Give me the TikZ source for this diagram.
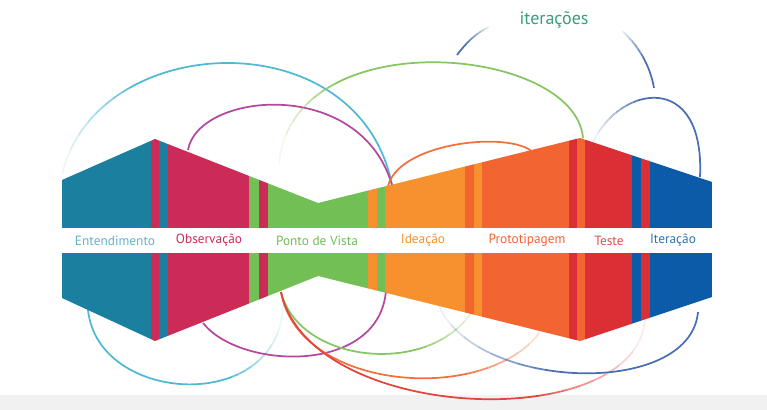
\documentclass[tikz,border=0pt]{standalone}
\usepackage{fontspec}
\setmainfont{PT Sans}

\definecolor{cTeal}{RGB}{27,128,160}
\definecolor{cCrimson}{RGB}{203,43,86}
\definecolor{cGreen}{RGB}{113,191,85}
\definecolor{cOrange}{RGB}{247,145,47}
\definecolor{cDkOrange}{RGB}{242,100,48}
\definecolor{cRed}{RGB}{218,48,53}
\definecolor{cBlue}{RGB}{11,91,168}
\definecolor{cArcCyan}{RGB}{79,185,211}
\definecolor{cArcMag}{RGB}{181,71,156}
\definecolor{cArcGreen}{RGB}{134,197,98}
\definecolor{cArcOrange}{RGB}{243,112,62}
\definecolor{cArcRed}{RGB}{226,67,58}
\definecolor{cArcBlue}{RGB}{74,111,176}
\definecolor{cTxtEnt}{RGB}{98,181,203}
\definecolor{cTxtIter}{RGB}{58,158,128}
\definecolor{cFloor}{RGB}{241,241,241}

\tikzset{every picture/.style={line width=0.75pt}}
\tikzset{
  arcline/.style={line width=1.3pt},
  steplabel/.style={font=\fontsize{10}{12}\selectfont, inner sep=0pt},
}

% loop that fades in between x=#3 and x=#4 (style #1, path #2)
\newcommand{\fadeinarc}[4]{%
  \foreach \s in {1,...,8}{%
    \begin{scope}
      \clip ({#3+(\s-1)*(#4-#3)/8},0) rectangle ({#3+\s*(#4-#3)/8},410);
      \draw[#1, draw opacity=\s/9] #2;
    \end{scope}}
  \begin{scope}
    \clip (#4,0) rectangle (767,410);
    \draw[#1] #2;
  \end{scope}}
% loop that fades out between x=#3 and x=#4
\newcommand{\fadeoutarc}[4]{%
  \begin{scope}
    \clip (0,0) rectangle (#3,410);
    \draw[#1] #2;
  \end{scope}
  \foreach \s in {1,...,8}{%
    \begin{scope}
      \clip ({#3+(\s-1)*(#4-#3)/8},0) rectangle ({#3+\s*(#4-#3)/8},410);
      \draw[#1, draw opacity=(9-\s)/9] #2;
    \end{scope}}}

\begin{document}
\begin{tikzpicture}[x=0.75pt,y=0.75pt,yscale=-1,xscale=1]
        \useasboundingbox (0,0) rectangle (767,410);
        \fill[cFloor] (0,395) rectangle (767,410);
        % loops above
        \fadeinarc{arcline, cArcCyan}{(62,175) .. controls (95,30) and (359,18) .. (392,185)}{62}{130}
        \draw[arcline, cArcMag] (188,150) .. controls (198,92) and (360,76) .. (392,185);
        \fadeinarc{arcline, cArcGreen}{(279,165) .. controls (290,20) and (575,45) .. (583,138)}{279}{335}
        \draw[arcline, cArcOrange] (388,186) .. controls (400,140) and (520,130) .. (535,155);
        \fadeinarc{arcline, cArcBlue}{(593,142) .. controls (620,85) and (705,70) .. (700,177)}{593}{638}
        \fadeoutarc{arcline, cArcBlue}{(457,55) .. controls (466,43) and (476,33) .. (489,27)}{466}{490}
        \fadeinarc{arcline, cArcBlue}{(622,31) .. controls (638,45) and (650,65) .. (654,88)}{621}{643}
        % loops below
        \fadeoutarc{arcline, cArcCyan}{(88,310) .. controls (98,405) and (280,415) .. (283,305)}{232}{284}
        \draw[arcline, cArcMag] (203,323) .. controls (240,370) and (380,375) .. (386,290);
        \fadeoutarc{arcline, cArcGreen}{(281,292) .. controls (300,368) and (445,378) .. (478,300)}{420}{479}
        \fadeoutarc{arcline, cArcOrange}{(281,292) .. controls (300,398) and (510,406) .. (548,318)}{468}{549}
        \fadeoutarc{arcline, cArcRed}{(281,292) .. controls (310,425) and (640,435) .. (645,318)}{540}{646}
        \fadeinarc{arcline, cArcBlue}{(438,303) .. controls (470,390) and (690,400) .. (698,312)}{437}{545}
        % the band
        \begin{scope}
        \clip (62,180) -- (155,139) -- (318,203) -- (580,138) -- (712,182) -- (712,297) -- (580,341) -- (318,276) -- (155,341) -- (62,298) -- cycle ;
        \fill[cTeal] (62,130) rectangle (151,350);
        \fill[cCrimson] (151,130) rectangle (159,350);
        \fill[cTeal] (159,130) rectangle (168,350);
        \fill[cCrimson] (168,130) rectangle (249,350);
        \fill[cGreen] (249,130) rectangle (259,350);
        \fill[cCrimson] (259,130) rectangle (268,350);
        \fill[cGreen] (268,130) rectangle (368,350);
        \fill[cOrange] (368,130) rectangle (377,350);
        \fill[cGreen] (377,130) rectangle (385,350);
        \fill[cOrange] (385,130) rectangle (465,350);
        \fill[cDkOrange] (465,130) rectangle (474,350);
        \fill[cOrange] (474,130) rectangle (482,350);
        \fill[cDkOrange] (482,130) rectangle (569,350);
        \fill[cRed] (569,130) rectangle (577,350);
        \fill[cDkOrange] (577,130) rectangle (585,350);
        \fill[cRed] (585,130) rectangle (632,350);
        \fill[cBlue] (632,130) rectangle (641,350);
        \fill[cRed] (641,130) rectangle (650,350);
        \fill[cBlue] (650,130) rectangle (712,350);
        \end{scope}
        \fill[white] (55,228) rectangle (720,253);
        % labels
        \draw (115,240.5) node (ent) [steplabel, text=cTxtEnt] {Entendimento};
        \draw (209,240.5) node (obs) [steplabel, text=cCrimson] {Observação};
        \draw (317,240.5) node (pdv) [steplabel, text=cGreen] {Ponto de Vista};
        \draw (423,240.5) node (idea) [steplabel, text=cOrange] {Ideação};
        \draw (527,240.5) node (proto) [steplabel, text=cDkOrange] {Prototipagem};
        \draw (609,240.5) node (teste) [steplabel, text=cRed!85!white] {Teste};
        \draw (673,240.5) node (iter) [steplabel, text=cBlue!85!white] {Iteração};
        \draw (554,20) node (iterlbl) [steplabel, font=\fontsize{13.5}{16}\selectfont, text=cTxtIter] {iterações};
\end{tikzpicture}
\end{document}
